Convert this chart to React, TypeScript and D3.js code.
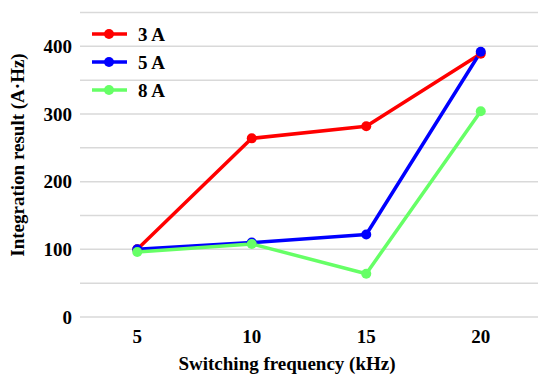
import { useEffect, useRef } from "react";
import * as d3 from "d3";

const frequencies = ["5", "10", "15", "20"];
const seriesNames = ["3 A", "5 A", "8 A"];
const values3A = [100, 264, 282, 389];
const values5A = [100, 110, 122, 392];
const values8A = [96, 108, 64, 304];
const yTicks = [0, 100, 200, 300, 400];
const gridValues = [0, 50, 100, 150, 200, 250, 300, 350, 400, 450];
const colors = ["#ff0000", "#0000ff", "#66ff66"];

const FONT = "Liberation Serif";

export default function App() {
  const svgRef = useRef<SVGSVGElement>(null);

  useEffect(() => {
    if (!svgRef.current) return;
    const svg = d3.select(svgRef.current);
    svg.selectAll("*").remove();

    const width = 550;
    const height = 384;
    const margin = { top: 12, right: 12, bottom: 67, left: 80 };

    const x = d3
      .scalePoint<string>()
      .domain(frequencies)
      .range([margin.left, width - margin.right])
      .padding(0.5);
    const y = d3
      .scaleLinear()
      .domain([0, 450])
      .range([height - margin.bottom, margin.top + 0.5]);

    const label = (sel: d3.Selection<any, any, any, any>) =>
      sel
        .style("font-family", FONT)
        .style("font-weight", "bold")
        .style("font-size", "19px")
        .attr("fill", "#000");

    // grid
    svg
      .append("g")
      .selectAll("line")
      .data(gridValues)
      .join("line")
      .attr("x1", margin.left)
      .attr("x2", width - margin.right)
      .attr("y1", (d) => y(d))
      .attr("y2", (d) => y(d))
      .attr("stroke", "#d9d9d9")
      .attr("stroke-width", 1.5);

    // y tick labels
    svg
      .append("g")
      .selectAll("text")
      .data(yTicks)
      .join("text")
      .attr("x", 72)
      .attr("y", (d) => y(d))
      .attr("dy", "0.35em")
      .attr("text-anchor", "end")
      .call(label)
      .text((d) => d);

    // x tick labels
    svg
      .append("g")
      .selectAll("text")
      .data(frequencies)
      .join("text")
      .attr("x", (d) => x(d)!)
      .attr("y", 343)
      .attr("text-anchor", "middle")
      .call(label)
      .text((d) => d);

    // axis titles
    svg
      .append("text")
      .attr("x", 287)
      .attr("y", 370)
      .attr("text-anchor", "middle")
      .call(label)
      .text("Switching frequency (kHz)");

    svg
      .append("text")
      .attr("transform", "translate(24, 155) rotate(-90)")
      .attr("text-anchor", "middle")
      .call(label)
      .text("Integration result (A·Hz)");

    const allSeries = [values3A, values5A, values8A];
    const line = d3
      .line<number>()
      .x((_, i) => x(frequencies[i])!)
      .y((d) => y(d));

    allSeries.forEach((vals, si) => {
      svg
        .append("path")
        .datum(vals)
        .attr("d", line)
        .attr("fill", "none")
        .attr("stroke", colors[si])
        .attr("stroke-width", 3.5)
        .attr("stroke-linejoin", "round");
    });
    allSeries.forEach((vals, si) => {
      svg
        .append("g")
        .selectAll("circle")
        .data(vals)
        .join("circle")
        .attr("cx", (_, i) => x(frequencies[i])!)
        .attr("cy", (d) => y(d))
        .attr("r", 5)
        .attr("fill", colors[si]);
    });

    // legend
    const legend = svg.append("g");
    seriesNames.forEach((name, i) => {
      const ly = 34 + i * 28;
      legend
        .append("line")
        .attr("x1", 92)
        .attr("x2", 127)
        .attr("y1", ly)
        .attr("y2", ly)
        .attr("stroke", colors[i])
        .attr("stroke-width", 3.5);
      legend
        .append("circle")
        .attr("cx", 109)
        .attr("cy", ly)
        .attr("r", 5)
        .attr("fill", colors[i]);
      legend
        .append("text")
        .attr("x", 138)
        .attr("y", ly)
        .attr("dy", "0.35em")
        .call(label)
        .text(name);
    });
  }, []);

  return (
    <svg
      ref={svgRef}
      width={550}
      height={384}
      style={{ position: "absolute", left: 0, top: 0, background: "#fff" }}
    />
  );
}
